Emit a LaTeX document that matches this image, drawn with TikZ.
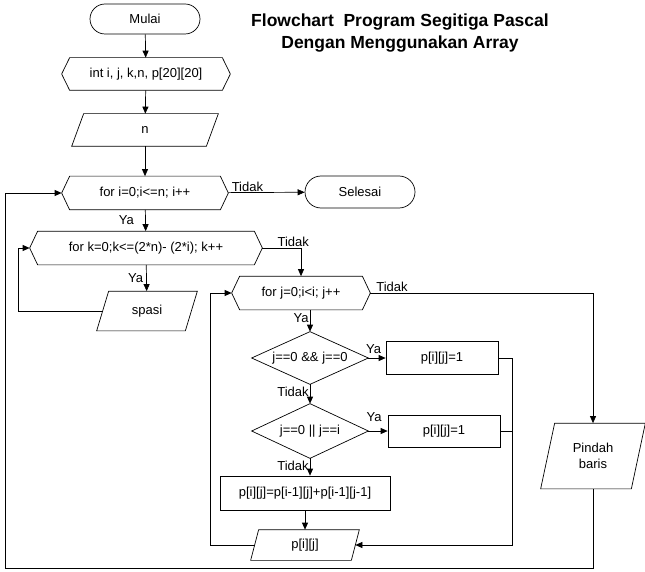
\documentclass[tikz,border=0pt]{standalone}
\usepackage{fontspec}
\setmainfont{Liberation Sans}
\usetikzlibrary{arrows.meta}
\begin{document}
\begin{tikzpicture}[x=1pt,y=-1pt,
  every node/.style={font=\fontsize{13}{15.5}\selectfont},
  box/.style={draw=none,inner sep=0pt},
  lbl/.style={font=\fontsize{13}{15.5}\selectfont,inner sep=1pt},
  arr/.style={-{Triangle[length=7pt,width=6pt]}}]
\useasboundingbox (0,0) rectangle (645,572);
\tikzset{every path/.style={line width=0.7pt}}
% nodes
\node[draw,rounded corners=15pt,minimum width=110pt,minimum height=30pt] (mulai) at (145,19) {Mulai};
\node[box,minimum width=168pt,minimum height=32pt] (int) at (146,74) {int i, j, k,n, p[20][20]};
\node[box,minimum width=146pt,minimum height=32pt] (n) at (145,130) {n};
\node[box,minimum width=166pt,minimum height=33pt] (fori) at (145,193) {for i=0;i<=n; i++};
\node[draw,rounded corners=16pt,minimum width=110pt,minimum height=32pt] (selesai) at (360,192) {Selesai};
\node[box,minimum width=232pt,minimum height=33pt] (fork) at (146,248) {for k=0;k<=(2*n)- (2*i); k++};
\node[box,minimum width=100pt,minimum height=39pt] (spasi) at (147,311) {spasi};
\node[box,minimum width=138pt,minimum height=33pt] (forj) at (301,293) {for j=0;i<i; j++};
\node[box,minimum width=116pt,minimum height=52pt] (d1) at (310,358) {};
\node at (310,358) {j==0 \&\& j==0};
\node[box,minimum width=116pt,minimum height=54pt] (d2) at (310,431) {};
\node at (310,431) {j==0 || j==i};
\node[draw,minimum width=112pt,minimum height=33pt] (b1) at (442,358) {p[i][j]=1};
\node[draw,minimum width=112pt,minimum height=32pt] (b2) at (444,431) {p[i][j]=1};
\node[draw,minimum width=170pt,minimum height=34pt] (big) at (305,493) {p[i][j]=p[i-1][j]+p[i-1][j-1]};
\node[box,minimum width=108pt,minimum height=30pt] (pij) at (305,545) {p[i][j]};
\node[box,minimum width=104pt,minimum height=65pt,align=center] (pb) at (593,456) {Pindah\\baris};
\node[font=\bfseries\fontsize{17.5}{22}\selectfont,align=center] (title) at (400,33) {Flowchart\ \ Program Segitiga Pascal\\Dengan Menggunakan Array};
% shapes
\foreach \h in {int,fori,fork,forj}{
  \draw ([xshift=8pt]\h.north west) -- ([xshift=-8pt]\h.north east) -- (\h.east) -- ([xshift=-8pt]\h.south east) -- ([xshift=8pt]\h.south west) -- (\h.west) -- cycle;}
\foreach \p/\s in {n/12,spasi/12,pij/8,pb/14}{
  \draw ([xshift=\s pt]\p.north west) -- (\p.north east) -- ([xshift=-\s pt]\p.south east) -- (\p.south west) -- cycle;}
\foreach \d in {d1,d2}{
  \draw (\d.north) -- (\d.east) -- (\d.south) -- (\d.west) -- cycle;}
% connectors
\draw[arr] (mulai) -- (int);
\draw[arr] (int) -- (n);
\draw[arr] (n) -- (fori);
\draw[arr] (fori) -- node[lbl,pos=0.25,above]{Tidak} (selesai);
\draw[arr] (fori) -- node[lbl,pos=0.5,right,xshift=-28pt]{Ya} (fork);
\draw[arr] (fork.east) -| node[lbl,pos=0.4,above]{Tidak} (forj.north);
\draw[arr] (fork) -- node[lbl,left,xshift=-2pt]{Ya} (spasi);
\draw[arr] ([xshift=6pt]spasi.west) -- (18,311) -- (18,248) -- (fork.west);
\draw[arr] (forj.east) -| (pb.north);
\node[lbl,above] at (392,293) {Tidak};
\draw (pb.south) -- (593,568) -- (5,568) -- (5,193);
\draw[arr] (5,193) -- (fori.west);
\draw[arr] (forj.south -| d1.north) -- node[lbl,left,pos=0.4]{Ya} (d1.north);
\draw[arr] (d1.east) -- node[lbl,above,pos=0.3,yshift=3pt]{Ya} (b1.west);
\draw[arr] (d1.south) -- node[lbl,left,pos=0.4]{Tidak} (d2.north);
\draw[arr] (d2.east) -- node[lbl,above,pos=0.3,yshift=8pt]{Ya} (b2.west);
\draw[arr] (d2.south) -- node[lbl,left,pos=0.45]{Tidak} (big.north -| d2.south);
\draw[arr] (big.south -| pij.north) -- (pij.north);
\draw (b1.east) -- (512,358);
\draw (b2.east) -- (512,431);
\draw[arr] (512,358) -- (512,545) -- ([xshift=-4pt]pij.east);
\draw[arr] ([xshift=4pt]pij.west) -- (210,545) -- (210,293) -- (forj.west);
\end{tikzpicture}
\end{document}
